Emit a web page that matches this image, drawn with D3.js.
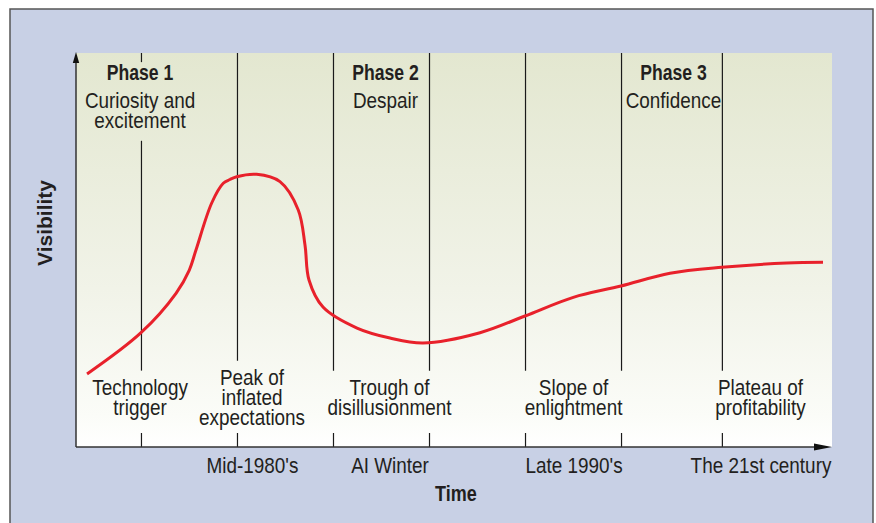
<!DOCTYPE html>
<html>
<head>
<meta charset="utf-8">
<script src="https://cdn.jsdelivr.net/npm/d3@7/dist/d3.min.js"></script>
<style>
  html,body{margin:0;padding:0;background:#fff;}
  svg{display:block;}
  text{font-family:"Liberation Sans",Arial,Helvetica,sans-serif;fill:#231f20;}
</style>
</head>
<body>
<svg id="chart" width="876" height="523"></svg>
<script>
// ---- data ----
const curveTime = [1.46, 8.60, 13.23, 14.99, 15.87, 17.95, 19.48, 20.37, 21.26, 23.90, 26.98, 29.40, 30.29, 30.82, 32.67, 37.17, 41.53, 45.90, 53.44, 59.39, 65.78, 72.09, 78.57, 85.41, 94.01, 98.81];
const curveVisibility = [18.53, 29.01, 39.01, 44.92, 50.00, 61.93, 66.93, 67.89, 68.60, 69.21, 67.34, 60.15, 51.27, 42.39, 35.53, 30.20, 27.66, 26.40, 29.01, 33.25, 37.99, 40.86, 44.09, 45.61, 46.70, 46.88];
const dividerTimes = [8.66, 21.36, 34.06, 46.76, 59.46, 72.16, 85.5];
const phaseNames = ["Phase 1", "Phase 2", "Phase 3"];
const phaseDescriptions = [["Curiosity and", "excitement"], ["Despair"], ["Confidence"]];
const phaseTimes = [8.47, 40.94, 79.03];
const stageNames = [["Technology", "trigger"], ["Peak of", "inflated", "expectations"], ["Trough of", "disillusionment"], ["Slope of", "enlightment"], ["Plateau of", "profitability"]];
const stageTimes = [8.47, 23.28, 41.47, 65.81, 90.54];
const tickLabels = ["Mid-1980's", "AI Winter", "Late 1990's", "The 21st century"];
const tickTimes = [23.28, 41.47, 65.81, 90.54];
const xTitle = "Time";
const yTitle = "Visibility";

// ---- layout ----
const svg = d3.select("#chart");
const plot = {left: 76, top: 53, right: 832, bottom: 447};
const x = d3.scaleLinear().domain([0, 100]).range([plot.left, plot.right]);
const y = d3.scaleLinear().domain([0, 100]).range([plot.bottom, plot.top]);
const fs = 22, lh = 20, sxReg = 0.86, sxBold = 0.8;

// multi-line centred text as one <text> with tspans
function addText(sel, lines, cx, by, opts = {}) {
  const size = opts.size || fs;
  const sx = opts.sx || sxReg;
  const t = sel.append("text")
    .attr("transform", `translate(${cx},${by}) scale(${sx},1)`)
    .attr("text-anchor", "middle").attr("font-size", size)
    .attr("font-weight", opts.bold ? "bold" : "normal");
  (Array.isArray(lines) ? lines : [lines]).forEach((s, j) => {
    t.append("tspan").attr("x", 0).attr("y", j * lh).text(s);
  });
  return t;
}

// frame
svg.append("rect").attr("x", 10).attr("y", 9).attr("width", 863).attr("height", 520)
  .attr("fill", "#c8d0e5").attr("stroke", "#555").attr("stroke-width", 1.5);

const defs = svg.append("defs");
const grad = defs.append("linearGradient").attr("id", "bg").attr("x1", 0).attr("y1", 0).attr("x2", 0).attr("y2", 1);
grad.append("stop").attr("offset", "0%").attr("stop-color", "#e3e7d0");
grad.append("stop").attr("offset", "60%").attr("stop-color", "#f1f3e8");
grad.append("stop").attr("offset", "92%").attr("stop-color", "#fbfcf8");
grad.append("stop").attr("offset", "100%").attr("stop-color", "#ffffff");

svg.append("rect").attr("x", plot.left).attr("y", plot.top)
  .attr("width", plot.right - plot.left).attr("height", plot.bottom - plot.top)
  .attr("fill", "url(#bg)");

// labels (drawn first so the divider gaps can be measured)
const labelG = svg.append("g");
const phaseGroups = [], stageGroups = [];
phaseNames.forEach((name, i) => {
  const g = labelG.append("g");
  addText(g, name, x(phaseTimes[i]), 80, {bold: true, sx: sxBold});
  addText(g, phaseDescriptions[i], x(phaseTimes[i]), 107.5);
  phaseGroups.push(g.node());
});
stageNames.forEach((lines, i) => {
  const g = labelG.append("g");
  const base = lines.length === 3 ? 385 : 395;
  addText(g, lines, x(stageTimes[i]), base);
  stageGroups.push(g.node());
});

// divider lines with gaps around labels
const boxes = [];
phaseGroups.forEach(n => boxes.push({b: n.getBBox(), top: true}));
stageGroups.forEach(n => boxes.push({b: n.getBBox(), top: false}));
const tickLen = 14;
dividerTimes.forEach(t => {
  const px = x(t);
  const gaps = [];
  boxes.forEach(({b, top}) => {
    if (px >= b.x && px <= b.x + b.width) {
      if (top) gaps.push([b.y + 2, b.y + b.height + 9]);
      else gaps.push([b.y - 4, plot.bottom - tickLen]);
    }
  });
  gaps.sort((a, b) => a[0] - b[0]);
  const segs = [];
  let cur = plot.top;
  gaps.forEach(g => { if (g[0] > cur) segs.push([cur, g[0]]); cur = Math.max(cur, g[1]); });
  segs.push([cur, plot.bottom]);
  svg.append("g").selectAll("line").data(segs).join("line")
    .attr("x1", px).attr("x2", px).attr("y1", s => s[0]).attr("y2", s => s[1])
    .attr("stroke", "#1a1a1a").attr("stroke-width", 1.2);
});

// curve
const pts = curveTime.map((t, i) => ({t, v: curveVisibility[i]}));
svg.append("path").datum(pts)
  .attr("d", d3.line().x(d => x(d.t)).y(d => y(d.v)).curve(d3.curveCatmullRom.alpha(0.5)))
  .attr("fill", "none").attr("stroke", "#e8212b").attr("stroke-width", 3);

// axes
const axisColor = "#333";
svg.append("line").attr("x1", plot.left).attr("x2", plot.right - 8).attr("y1", plot.bottom).attr("y2", plot.bottom)
  .attr("stroke", axisColor).attr("stroke-width", 1.5);
svg.append("line").attr("x1", plot.left).attr("x2", plot.left).attr("y1", plot.bottom).attr("y2", plot.top + 6)
  .attr("stroke", axisColor).attr("stroke-width", 1.5);
svg.append("path").attr("d", `M${plot.right},${plot.bottom} L${plot.right - 18},${plot.bottom - 3.5} L${plot.right - 18},${plot.bottom + 3.5} Z`).attr("fill", "#111");
svg.append("path").attr("d", `M${plot.left},${plot.top - 1} L${plot.left - 3.2},${plot.top + 10} L${plot.left + 3.2},${plot.top + 10} Z`).attr("fill", "#111");

const xAxis = d3.axisBottom(x).tickValues(tickTimes).tickFormat((d, i) => tickLabels[i]).tickSize(0).tickPadding(10.5);
const xg = svg.append("g").attr("transform", `translate(0,${plot.bottom})`).call(xAxis);
xg.select(".domain").remove();
xg.selectAll("text").attr("font-size", fs).attr("fill", "#231f20")
  .attr("transform", `scale(${sxReg},1)`)
  .style("font-family", '"Liberation Sans",Arial,Helvetica,sans-serif');

addText(svg, xTitle, (plot.left + plot.right) / 2 + 2, 501, {bold: true, sx: 0.82});
svg.append("text").attr("transform", `translate(52,223) rotate(-90)`).attr("text-anchor", "middle")
  .attr("font-size", 21).attr("font-weight", "bold").text(yTitle);
</script>
</body>
</html>
